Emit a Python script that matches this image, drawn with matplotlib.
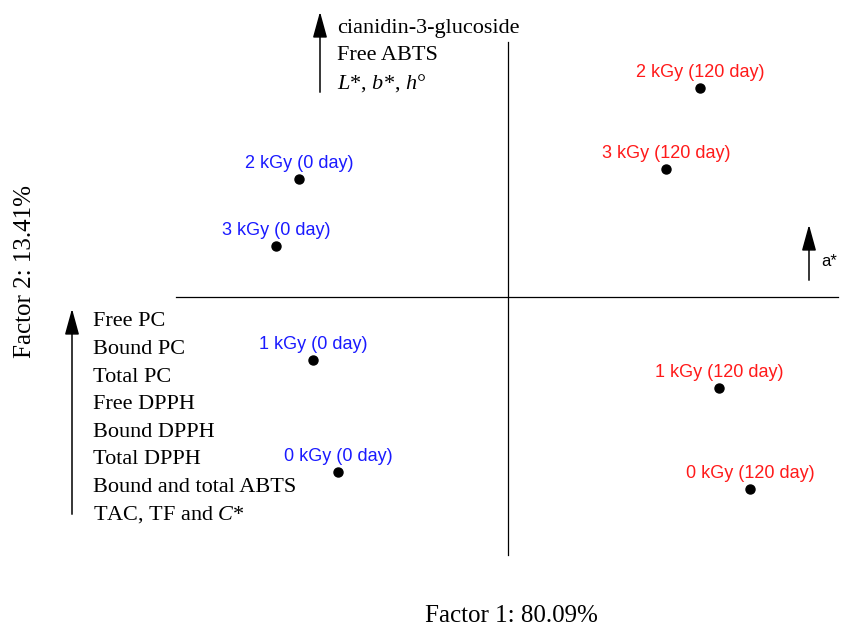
import matplotlib
matplotlib.use("Agg")
import matplotlib.pyplot as plt

plt.rcParams["mathtext.fontset"] = "custom"
plt.rcParams["mathtext.rm"] = "Liberation Serif"
plt.rcParams["mathtext.it"] = "Liberation Serif:italic"

# factor scores of the irradiated samples
labels = [
    "2 kGy (0 day)", "3 kGy (0 day)", "1 kGy (0 day)", "0 kGy (0 day)",
    "2 kGy (120 day)", "3 kGy (120 day)", "1 kGy (120 day)", "0 kGy (120 day)",
]
factor1 = [-2.09, -2.32, -1.95, -1.70, 1.92, 1.58, 2.11, 2.42]
factor2 = [1.18, 0.51, -0.63, -1.75, 2.09, 1.28, -0.91, -1.92]
colors = ["#1a1aff"] * 4 + ["#ff1a1a"] * 4

# variables loading on each direction
top_vars = ["cianidin-3-glucoside", "Free ABTS", r"$L$*, $b$*, $h$°"]
left_vars = ["Free PC", "Bound PC", "Total PC", "Free DPPH", "Bound DPPH",
             "Total DPPH", "Bound and total ABTS", "TAC, TF and $C$*"]

serif = ["Liberation Serif", "DejaVu Serif"]
sans = ["Liberation Sans", "DejaVu Sans"]

fig = plt.figure(figsize=(8.5, 6.29), dpi=100)
ax = fig.add_axes([0, 0, 1, 1])
ax.set_xlim(-5.08, 3.42)
ax.set_ylim(-3.32, 2.97)
ax.axis("off")

# origin axes
ax.plot([-3.32, 3.30], [0, 0], color="black", lw=0.9)
ax.plot([0, 0], [-2.58, 2.55], color="black", lw=0.9)

ax.plot(factor1, factor2, "o", color="black", ms=6.5, ls="none")
for x, y, lab, c in zip(factor1, factor2, labels, colors):
    ax.annotate(lab, (x, y), xytext=(0, 11), textcoords="offset points",
                ha="center", va="center", color=c, fontsize=13, family=sans)

arrow = dict(arrowstyle="-|>,head_length=0.8,head_width=0.22",
             color="black", lw=1.1, mutation_scale=20)

# upward arrow with the variables on factor 2
ax.annotate("", xy=(-1.88, 2.88), xytext=(-1.88, 2.02), arrowprops=arrow)
for i, t in enumerate(top_vars):
    ax.text(-1.71, 2.69 - i * 0.275, t, fontsize=16, family=serif,
            ha="left", va="center")

# left arrow with the variables shared by both factors
ax.annotate("", xy=(-4.36, -0.09), xytext=(-4.36, -2.20), arrowprops=arrow)
for i, t in enumerate(left_vars):
    ax.text(-4.15, -0.25 - i * 0.2757, t, fontsize=16, family=serif,
            ha="left", va="center")

# a* arrow
ax.annotate("", xy=(3.01, 0.75), xytext=(3.01, 0.14), arrowprops=arrow)
ax.text(3.13, 0.36, "a*", fontsize=12, family=sans, ha="left", va="center")

ax.text(0.03, -3.19, "Factor 1: 80.09%", fontsize=18, family=serif,
        ha="center", va="center")
ax.text(-4.83, 0.25, "Factor 2: 13.41%", fontsize=18, family=serif,
        ha="center", va="center", rotation=90)

fig.savefig("out.png", dpi=100, facecolor="white")
